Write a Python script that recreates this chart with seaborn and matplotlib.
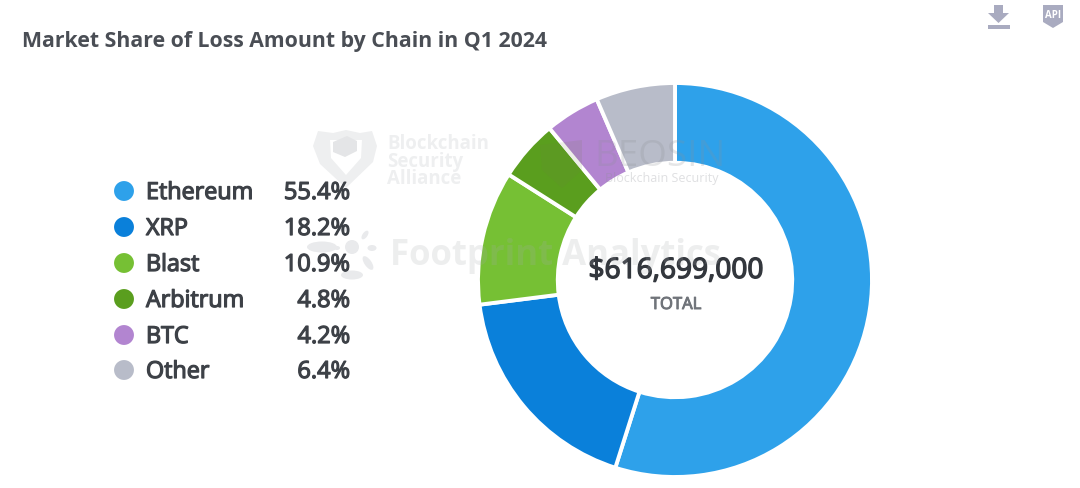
import matplotlib
matplotlib.use("Agg")
import matplotlib.pyplot as plt
import matplotlib.patheffects as pe
import seaborn as sns
import pandas as pd
from matplotlib.patches import Polygon, Ellipse

chains = ["Ethereum", "XRP", "Blast", "Arbitrum", "BTC", "Other"]
slice_shares = [54.9, 18.1, 11.0, 5.0, 4.5, 6.5]
share_labels = ["55.4%", "18.2%", "10.9%", "4.8%", "4.2%", "6.4%"]
colors = ["#2ea1ea", "#0a80da", "#76c034", "#5a9e1e", "#b285d0", "#b8bcc9"]
title = "Market Share of Loss Amount by Chain in Q1 2024"
total_label = "$616,699,000"

sns.set_theme(style="white")
plt.rcParams["font.family"] = ["Open Sans", "DejaVu Sans"]

W, H = 1080, 489
fig = plt.figure(figsize=(W / 100, H / 100), dpi=100, facecolor="white")

# donut, centre (675, 281) in image pixels
R = 197
ax = fig.add_axes([(675 - R) / W, 1 - (281 + R) / H, 2 * R / W, 2 * R / H])
ax.pie(
    slice_shares,
    colors=colors,
    startangle=90,
    counterclock=False,
    radius=1,
    wedgeprops={"width": 0.405, "edgecolor": "white", "linewidth": 2.8},
)
ax.set_xlim(-1, 1)
ax.set_ylim(-1, 1)
ax.set_aspect("equal")

# overlay in image pixel coordinates for legend, text and watermarks
ov = fig.add_axes([0, 0, 1, 1], zorder=5)
ov.patch.set_alpha(0)

ink = "#3d4147"
semi = [pe.withStroke(linewidth=0.9, foreground=ink)]

legend_y = [191, 227, 263, 299, 335, 370]
legend_df = pd.DataFrame({"x": [124] * 6, "y": legend_y, "chain": chains})
sns.scatterplot(
    data=legend_df, x="x", y="y", hue="chain", palette=colors, hue_order=chains,
    s=205, linewidth=0, legend=False, ax=ov,
)
ov.set_xlim(0, W)
ov.set_ylim(H - 1, -1)
ov.axis("off")

ov.text(22, 46, title, fontsize=15.3, fontweight="bold", color="#4a4e55", va="baseline")

for y, name, val in zip(legend_y, chains, share_labels):
    ov.text(146, y + 8, name, fontsize=16.8, color=ink, va="baseline", path_effects=semi)
    ov.text(350, y + 8, val, fontsize=17, color=ink, va="baseline", ha="right", path_effects=semi)

ov.text(676, 278, total_label, fontsize=20.2, color="#33373d", ha="center", va="baseline",
        path_effects=[pe.withStroke(linewidth=1.0, foreground="#33373d")])
ov.text(676, 309, "TOTAL", fontsize=12, color="#70747a", ha="center", va="baseline",
        path_effects=[pe.withStroke(linewidth=0.7, foreground="#70747a")])

# watermarks
wm = "#eeeff0"
ov.add_patch(Polygon([(318, 131), (333, 133), (346, 130), (360, 133), (372, 131), (377, 146), (373, 162),
                      (346, 188), (320, 164), (313, 146)], closed=True, fc=wm, ec="none"))
ov.add_patch(Polygon([(330, 140), (362, 140), (361, 158), (346, 175), (331, 158)], closed=True, fc="white", ec="none"))
ov.add_patch(Polygon([(333, 142), (347, 136), (357, 141), (357, 151), (345, 157), (333, 152)],
                     closed=True, fc="#e4e5e7", ec="none"))
for y, word in zip([148, 166, 183], ["Blockchain", "Security", "Alliance"]):
    ov.text(387, y, word, fontsize=13.4, fontweight="bold", color=wm, va="baseline")

ov.text(594, 165, "BEOSIN", fontsize=26.5, color="#8d8f96", alpha=0.22, va="baseline")
ov.text(605, 181, "Blockchain Security", fontsize=9, color="#8d8f96", alpha=0.28, va="baseline")
ov.add_patch(Polygon([(540, 145), (582, 140), (582, 170), (562, 188), (542, 170)], closed=True,
                     fc="#6d7f40", ec="none", alpha=0.12))

ov.text(390, 264, "Footprint Analytics", fontsize=25, fontweight="bold", color="#a8aaae", alpha=0.2, va="baseline")
blobs = [(322, 247, 30, 11, 0), (352, 247, 14, 14, 0), (352, 275, 9, 22, 90), (368, 263, 7, 16, -35),
         (372, 248, 9, 6, 0), (365, 235, 5, 10, 35), (343, 228, 7, 8, 0), (337, 262, 6, 8, 0), (337, 248, 6, 4, 0)]
for x, y, w, h, a in blobs:
    ov.add_patch(Ellipse((x, y), w, h, angle=a, fc="#e9eaec", ec="none"))

# toolbar icons
icon = "#a9abc0"
ov.add_patch(Polygon([(994, 5), (1003, 5), (1003, 13), (1009, 13), (998.5, 23), (988, 13), (994, 13)],
                     closed=True, fc=icon, ec="none"))
ov.add_patch(Polygon([(988, 25), (1010, 25), (1010, 29), (988, 29)], closed=True, fc=icon, ec="none"))
ov.add_patch(Polygon([(1043, 5), (1063, 5), (1063, 22), (1053, 28), (1043, 22)], closed=True, fc=icon, ec="none"))
ov.text(1053, 14, "API", fontsize=7, fontweight="bold", color="white", ha="center", va="center")

fig.savefig("out.png", dpi=100)
